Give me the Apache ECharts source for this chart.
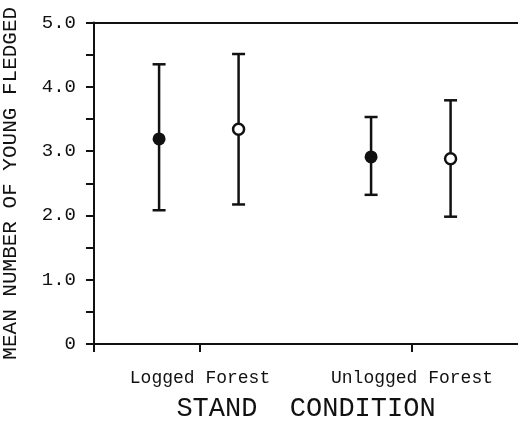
<!DOCTYPE html>
<html>
<head>
<meta charset="utf-8">
<script src="https://cdn.jsdelivr.net/npm/echarts@6/dist/echarts.min.js"></script>
<style>html,body{margin:0;padding:0;background:#fff}#c{width:518px;height:432px}</style>
</head>
<body>
<div id="c"></div>
<script>
var categories = ['Logged Forest', 'Unlogged Forest'];
var filledMean = [3.19, 2.91];
var filledLow = [2.08, 2.32];
var filledHigh = [4.35, 3.53];
var openMean = [3.34, 2.88];
var openLow = [2.17, 1.98];
var openHigh = [4.51, 3.79];
var yTicks = [0, 1, 2, 3, 4, 5];

var FONT = '"Liberation Mono", "DejaVu Sans Mono", monospace';
var INK = '#111';
var OFF_FILLED = -0.193;
var OFF_OPEN = 0.182;

function errData(low, high, off) {
  return categories.map(function (c, i) { return [i + 1 + off, low[i], high[i]]; });
}
function ptData(mean, off) {
  return categories.map(function (c, i) { return [i + 1 + off, mean[i]]; });
}
function renderErr(params, api) {
  var x = api.value(0);
  var lo = api.coord([x, api.value(1)]);
  var hi = api.coord([x, api.value(2)]);
  var hw = 6.5;
  var st = { stroke: INK, lineWidth: 2.5 };
  return {
    type: 'group',
    children: [
      { type: 'line', shape: { x1: lo[0], y1: lo[1], x2: hi[0], y2: hi[1] }, style: st },
      { type: 'line', shape: { x1: lo[0] - hw, y1: lo[1], x2: lo[0] + hw, y2: lo[1] }, style: st },
      { type: 'line', shape: { x1: hi[0] - hw, y1: hi[1], x2: hi[0] + hw, y2: hi[1] }, style: st }
    ]
  };
}

var chart = echarts.init(document.getElementById('c'));
chart.setOption({
  animation: false,
  backgroundColor: '#fff',
  grid: { left: 94, right: 0, top: 22.5, bottom: 88, containLabel: false, outerBoundsMode: 'none' },
  xAxis: [{
    type: 'value', min: 0.5, max: 2.5,
    axisLine: { show: true, lineStyle: { color: INK, width: 2 } },
    axisTick: { show: true, length: 8, inside: false, customValues: [0.5, 1, 2], lineStyle: { color: INK, width: 2 } },
    axisLabel: {
      customValues: [1, 2], margin: 25,
      fontFamily: FONT, fontSize: 18, color: INK,
      formatter: function (v) { return categories[Math.round(v) - 1] || ''; }
    },
    splitLine: { show: false },
    name: 'STAND  CONDITION', nameLocation: 'middle', nameGap: 51,
    nameTextStyle: { fontFamily: FONT, fontSize: 27, color: INK }
  }, {
    type: 'value', min: 0.5, max: 2.5, position: 'top',
    axisLine: { show: true, lineStyle: { color: INK, width: 2 } },
    axisTick: { show: false }, axisLabel: { show: false }, splitLine: { show: false }
  }],
  yAxis: {
    type: 'value', min: 0, max: 5, interval: 1,
    axisLine: { show: true, lineStyle: { color: INK, width: 2 } },
    axisTick: { show: true, length: 8, lineStyle: { color: INK, width: 2 } },
    minorTick: { show: true, splitNumber: 2, length: 8, lineStyle: { color: INK, width: 2 } },
    axisLabel: {
      margin: 18, fontFamily: FONT, fontSize: 19, color: INK,
      formatter: function (v) { return v === 0 ? '0' : v.toFixed(1); }
    },
    splitLine: { show: false },
    name: 'MEAN NUMBER OF YOUNG FLEDGED', nameLocation: 'middle', nameGap: 73,
    nameTextStyle: { fontFamily: FONT, fontSize: 21, color: INK }
  },
  series: [
    { type: 'custom', renderItem: renderErr, data: errData(filledLow, filledHigh, OFF_FILLED), z: 2 },
    { type: 'custom', renderItem: renderErr, data: errData(openLow, openHigh, OFF_OPEN), z: 2 },
    { type: 'scatter', data: ptData(filledMean, OFF_FILLED), symbol: 'circle', symbolSize: 13,
      itemStyle: { color: INK, opacity: 1 }, z: 3 },
    { type: 'scatter', data: ptData(openMean, OFF_OPEN), symbol: 'circle', symbolSize: 11,
      itemStyle: { color: '#fff', borderColor: INK, borderWidth: 2.5, opacity: 1 }, z: 3 }
  ]
});
</script>
</body>
</html>
